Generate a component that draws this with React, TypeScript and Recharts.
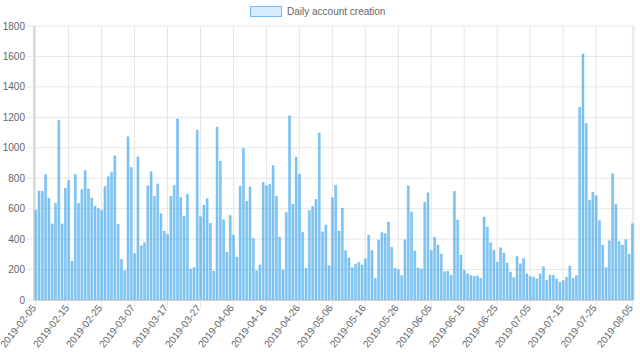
import React from 'react';
import { BarChart, Bar, XAxis, YAxis, CartesianGrid } from 'recharts';

const START_DATE = '2019-02-05';
const DAY_COUNT = 182;

const accounts = [
  590, 715, 715, 825, 667, 500, 635, 1180, 500, 735,
  785, 255, 825, 635, 725, 850, 730, 670, 615, 600,
  590, 745, 810, 838, 947, 497, 267, 192, 1072, 870,
  304, 940, 356, 376, 750, 842, 680, 763, 566, 453,
  431, 682, 752, 1190, 674, 549, 695, 203, 212, 1115,
  547, 623, 665, 503, 190, 1135, 912, 527, 313, 555,
  426, 282, 746, 997, 647, 743, 405, 192, 230, 772,
  750, 759, 881, 682, 413, 197, 575, 1209, 630, 938,
  827, 444, 208, 588, 615, 660, 1098, 448, 492, 225,
  671, 754, 453, 604, 324, 276, 212, 234, 247, 230,
  271, 426, 324, 142, 394, 442, 435, 512, 346, 208,
  199, 160, 396, 750, 577, 321, 210, 203, 641, 704,
  326, 411, 361, 302, 186, 188, 162, 713, 525, 295,
  195, 171, 160, 155, 157, 142, 545, 479, 376, 326,
  249, 343, 308, 243, 184, 147, 286, 238, 273, 171,
  155, 149, 138, 171, 219, 129, 164, 162, 138, 116,
  127, 149, 223, 142, 160, 1266, 1616, 1159, 654, 709,
  685, 521, 361, 212, 389, 829, 628, 385, 361, 396,
  300, 501,
];

const yTicks = [0, 200, 400, 600, 800, 1000, 1200, 1400, 1600, 1800];
const xTickIndexes = [0, 10, 20, 30, 40, 50, 60, 70, 80, 90, 100, 110, 120, 130, 140, 150, 160, 170, 181];

const dates: string[] = [];
{
  const d = new Date(START_DATE + 'T00:00:00Z');
  for (let i = 0; i < DAY_COUNT; i++) {
    dates.push(d.toISOString().slice(0, 10));
    d.setUTCDate(d.getUTCDate() + 1);
  }
}

const data = dates.map((date, i) => ({ date, value: accounts[i] }));
const xTicks = xTickIndexes.map((i) => dates[i]);

const FONT = '"Liberation Sans", Arial, Helvetica, sans-serif';

const DateTick = (props: any) => {
  const { x, y, payload } = props;
  const ax = x + 1;
  const ay = y - 2;
  return (
    <text
      x={ax}
      y={ay}
      transform={`rotate(-52, ${ax}, ${ay})`}
      textAnchor="end"
      fontSize={10}
      fontFamily={FONT}
      fill="#666"
    >
      {payload.value}
    </text>
  );
};

export default function App() {
  return (
    <div style={{ position: 'fixed', left: 0, top: 0, width: 640, height: 361, background: '#fff' }}>
      <div
        style={{
          position: 'absolute',
          top: 6,
          left: 250,
          display: 'flex',
          alignItems: 'center',
          fontFamily: FONT,
          fontSize: 10,
          color: '#666',
        }}
      >
        <span
          style={{
            display: 'inline-block',
            width: 30,
            height: 9,
            background: 'rgba(54,162,235,0.2)',
            border: '1px solid rgba(54,162,235,0.6)',
            marginRight: 5,
          }}
        />
        <span>Daily account creation</span>
      </div>
      <BarChart
        width={640}
        height={361}
        data={data}
        margin={{ top: 26, right: 6, bottom: 0, left: 0 }}
        barCategoryGap="22%"
      >
        <CartesianGrid stroke="#e6e6e6" />
        <XAxis
          dataKey="date"
          ticks={xTicks}
          interval={0}
          height={61}
          tick={<DateTick />}
          tickSize={8}
          tickLine={{ stroke: '#e6e6e6' }}
          axisLine={{ stroke: '#bfbfbf' }}
        />
        <YAxis
          width={34}
          domain={[0, 1800]}
          ticks={yTicks}
          interval={0}
          tickSize={7}
          tickMargin={2}
          tick={{ fontSize: 10, fontFamily: FONT, fill: '#666' }}
          tickLine={{ stroke: '#e6e6e6' }}
          axisLine={{ stroke: '#bfbfbf' }}
        />
        <Bar
          dataKey="value"
          fill="rgba(54,162,235,0.6)"
          stroke="rgba(54,162,235,0.9)"
          strokeWidth={0.4}
          isAnimationActive={false}
        />
      </BarChart>
    </div>
  );
}
